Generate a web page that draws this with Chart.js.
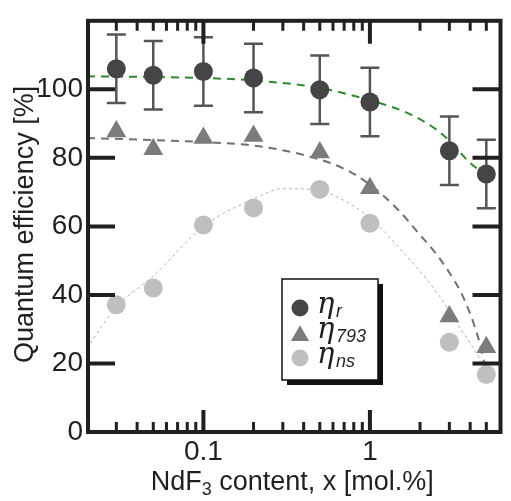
<!DOCTYPE html>
<html>
<head>
<meta charset="utf-8">
<script src="https://cdn.jsdelivr.net/npm/chart.js@4/dist/chart.umd.min.js"></script>
<style>
  html, body { margin: 0; padding: 0; background: #ffffff; }
  canvas { display: block; }
</style>
</head>
<body>
<canvas id="qe" width="511" height="501"></canvas>
<script>
// NdF3 concentrations (mol.%)
const contentX = [0.03, 0.05, 0.1, 0.2, 0.5, 1, 3, 5];
// measured quantum efficiencies (%)
const etaR = [106, 104.1, 105.2, 103.3, 99.9, 96.3, 82.1, 75.3];
const etaRErr = [10, 10, 10, 10, 10, 10, 10, 10];
const eta793 = [87.7, 82.5, 85.8, 86.4, 81.6, 71.1, 33.7, 24.7];
const etaNs = [37.1, 42, 60.4, 65.4, 70.8, 60.9, 26.2, 16.8];

// guide curves through the data
const fitRX = [0.02, 0.05, 0.1, 0.2, 0.5, 1, 1.7, 2.5, 3, 4, 5];
const fitRY = [103.8, 103.6, 103.3, 102.6, 100.4, 96.8, 93, 88.3, 85, 78.5, 75];
const fit793X = [0.02, 0.05, 0.1, 0.2, 0.45, 0.7, 1, 1.5, 2, 2.5, 3, 3.5, 4, 4.5, 4.95];
const fit793Y = [85.8, 85.2, 84.6, 83.6, 80.2, 76.8, 72.2, 64.5, 57.5, 52, 46.5, 41, 34.5, 27, 18.5];
const fitNsX = [0.02, 0.03, 0.05, 0.1, 0.2, 0.3, 0.45, 0.64, 1, 1.5, 2.5, 3.5, 4.47, 4.9];
const fitNsY = [24.5, 36.5, 45.5, 60, 68, 71, 70.8, 68.5, 62.5, 53.7, 41, 30.1, 22.2, 18.5];

// axis ticks
const xMajorTicks = [0.1, 1];
const xMinorTicks = [0.03, 0.04, 0.05, 0.06, 0.07, 0.08, 0.09,
                     0.2, 0.3, 0.4, 0.5, 0.6, 0.7, 0.8, 0.9, 2, 3, 4, 5];
const yMajorTicks = [0, 20, 40, 60, 80, 100];

// legend entries
const legendNames = ['r', '793', 'ns'];

const ink = '#231f20';
const pts = (xs, ys) => xs.map((x, i) => ({ x: x, y: ys[i] }));

const decor = {
  id: 'decor',
  beforeDatasetsDraw(chart) {
    const ctx = chart.ctx, xs = chart.scales.x, ys = chart.scales.y;
    ctx.save();
    ctx.strokeStyle = '#555555';
    ctx.lineWidth = 2.5;
    contentX.forEach((xv, i) => {
      const px = xs.getPixelForValue(xv);
      const t = ys.getPixelForValue(etaR[i] + etaRErr[i]);
      const b = ys.getPixelForValue(etaR[i] - etaRErr[i]);
      ctx.beginPath();
      ctx.moveTo(px, t); ctx.lineTo(px, b);
      ctx.moveTo(px - 9.5, t); ctx.lineTo(px + 9.5, t);
      ctx.moveTo(px - 9.5, b); ctx.lineTo(px + 9.5, b);
      ctx.stroke();
    });
    ctx.restore();
  },
  afterDatasetsDraw(chart) {
    const ctx = chart.ctx, xs = chart.scales.x, ys = chart.scales.y;
    const a = chart.chartArea;
    ctx.save();
    // frame
    ctx.strokeStyle = ink;
    ctx.lineWidth = 4;
    ctx.strokeRect(a.left + 1, a.top, a.right - a.left, a.bottom - a.top);
    // y ticks, both sides
    ctx.beginPath();
    yMajorTicks.forEach(v => {
      if (v === 0) return;
      const py = ys.getPixelForValue(v);
      ctx.moveTo(a.left, py); ctx.lineTo(a.left + 28, py);
      ctx.moveTo(a.right, py); ctx.lineTo(a.right - 27, py);
    });
    ctx.stroke();
    // x major ticks, bottom and top
    ctx.beginPath();
    xMajorTicks.forEach(v => {
      const px = xs.getPixelForValue(v);
      ctx.moveTo(px, a.bottom); ctx.lineTo(px, a.bottom - 22);
      ctx.moveTo(px, a.top); ctx.lineTo(px, a.top + 23);
    });
    ctx.stroke();
    // x minor ticks
    ctx.lineWidth = 3;
    ctx.beginPath();
    xMinorTicks.forEach(v => {
      const px = xs.getPixelForValue(v);
      ctx.moveTo(px, a.bottom); ctx.lineTo(px, a.bottom - 10);
      ctx.moveTo(px, a.top); ctx.lineTo(px, a.top + 10);
    });
    ctx.stroke();

    // axis titles
    ctx.fillStyle = ink;
    ctx.textBaseline = 'alphabetic';
    const tf = '27px "Liberation Sans", Arial, sans-serif';
    const sf = '18px "Liberation Sans", Arial, sans-serif';
    ctx.font = tf;
    const p1 = 'NdF', p3 = ' content, x [mol.%]';
    const w1 = ctx.measureText(p1).width, w3 = ctx.measureText(p3).width;
    ctx.font = sf;
    const w2 = ctx.measureText('3').width;
    const total = w1 + w2 + w3;
    let tx = (a.left + a.right) / 2 - total / 2 - 1;
    const base = 490;
    ctx.textAlign = 'left';
    ctx.font = tf; ctx.fillText(p1, tx, base); tx += w1;
    ctx.font = sf; ctx.fillText('3', tx, base + 5); tx += w2;
    ctx.font = tf; ctx.fillText(p3, tx, base);

    ctx.save();
    ctx.translate(33, (a.top + a.bottom) / 2 - 2);
    ctx.rotate(-Math.PI / 2);
    ctx.textAlign = 'center';
    ctx.font = tf;
    ctx.fillText('Quantum efficiency [%]', 0, 0);
    ctx.restore();

    // legend
    const bx = 282, by = 279, bw = 96, bh = 101;
    ctx.fillStyle = '#111111';
    ctx.fillRect(bx + 5, by + 5, bw, bh);
    ctx.fillStyle = '#ffffff';
    ctx.fillRect(bx, by, bw, bh);
    ctx.strokeStyle = '#111111';
    ctx.lineWidth = 1.5;
    ctx.strokeRect(bx, by, bw, bh);
    const rows = [308, 333, 358];
    const sets = [0, 1, 2].map(i => chart.data.datasets[i]);
    rows.forEach((ry, i) => {
      const ds = sets[i];
      ctx.fillStyle = ds.backgroundColor;
      ctx.beginPath();
      if (ds.pointStyle === 'triangle') {
        const r = 10.5;
        ctx.moveTo(300, ry - r * 0.75);
        ctx.lineTo(300 + r * Math.cos(Math.PI / 6), ry + r * 0.75);
        ctx.lineTo(300 - r * Math.cos(Math.PI / 6), ry + r * 0.75);
        ctx.closePath();
      } else {
        ctx.arc(300, ry, 8.5, 0, Math.PI * 2);
      }
      ctx.fill();
      ctx.fillStyle = ink;
      ctx.textAlign = 'left';
      ctx.font = 'italic 29px "DejaVu Serif", "Liberation Serif", serif';
      ctx.fillText('\u03B7', 317, ry + 5);
      ctx.font = 'italic 18px "Liberation Sans", Arial, sans-serif';
      ctx.fillText(legendNames[i], 336, ry + 9);
    });
    ctx.restore();
  }
};

new Chart(document.getElementById('qe'), {
  type: 'scatter',
  data: {
    datasets: [
      { label: 'eta_r', data: pts(contentX, etaR), pointStyle: 'circle', pointRadius: 9.5,
        backgroundColor: '#454545', borderWidth: 0 },
      { label: 'eta_793', data: pts(contentX, eta793), pointStyle: 'triangle', pointRadius: 11.5,
        backgroundColor: '#7b7b7b', borderWidth: 0 },
      { label: 'eta_ns', data: pts(contentX, etaNs), pointStyle: 'circle', pointRadius: 9.5,
        backgroundColor: '#bfbfc1', borderWidth: 0 },
      { label: 'fit r', data: pts(fitRX, fitRY), showLine: true, pointRadius: 0,
        borderColor: '#2f8a2f', borderWidth: 2, borderDash: [8, 6], cubicInterpolationMode: 'monotone' },
      { label: 'fit 793', data: pts(fit793X, fit793Y), showLine: true, pointRadius: 0,
        borderColor: '#707070', borderWidth: 2, borderDash: [8, 6], cubicInterpolationMode: 'monotone' },
      { label: 'fit ns', data: pts(fitNsX, fitNsY), showLine: true, pointRadius: 0,
        borderColor: '#b0b0b0', borderWidth: 1, borderDash: [3, 3], cubicInterpolationMode: 'monotone' }
    ]
  },
  options: {
    responsive: false,
    devicePixelRatio: 1,
    animation: false,
    events: [],
    layout: { padding: { left: 0, right: 0, top: 7.5, bottom: 0 } },
    plugins: { legend: { display: false }, tooltip: { enabled: false } },
    scales: {
      x: {
        type: 'logarithmic', min: 0.02, max: 6,
        grid: { display: false, drawTicks: false },
        border: { display: false },
        afterBuildTicks: s => { s.ticks = xMajorTicks.map(v => ({ value: v })); },
        afterFit: s => { s.height = 69; },
        ticks: {
          autoSkip: false, maxRotation: 0, padding: 3, color: ink,
          font: { family: '"Liberation Sans", Arial, sans-serif', size: 28 },
          callback: v => String(v)
        }
      },
      y: {
        type: 'linear', min: 0, max: 120,
        grid: { display: false, drawTicks: false },
        border: { display: false },
        afterBuildTicks: s => { s.ticks = yMajorTicks.map(v => ({ value: v })); },
        afterFit: s => { s.width = 87; },
        ticks: {
          padding: 4, color: ink,
          font: { family: '"Liberation Sans", Arial, sans-serif', size: 28 },
          callback: v => String(v)
        }
      }
    }
  },
  plugins: [decor]
});
</script>
</body>
</html>
